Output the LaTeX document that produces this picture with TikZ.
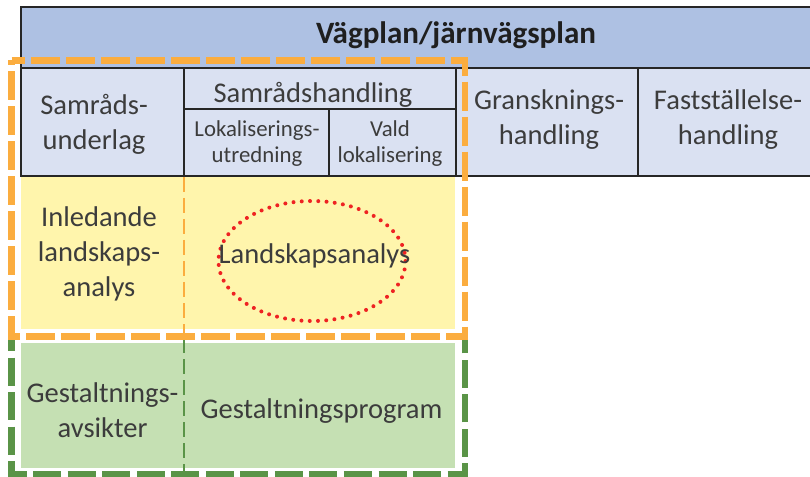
\documentclass[tikz,border=0pt]{standalone}
\usepackage{fontspec}
\setmainfont{Carlito}
\usetikzlibrary{shapes.geometric}
\definecolor{hdrblue}{HTML}{AEC1E3}
\definecolor{cellblue}{HTML}{DAE1F2}
\definecolor{yelfill}{HTML}{FFF5AC}
\definecolor{grnfill}{HTML}{C5E0B3}
\definecolor{orng}{HTML}{FBAD3F}
\definecolor{dgrn}{HTML}{5A9447}
\definecolor{reddot}{HTML}{EE2222}
\definecolor{txtgray}{HTML}{3C3C3C}
\definecolor{bordc}{HTML}{262626}
\begin{document}
\begin{tikzpicture}[x=0.75pt,y=-0.75pt,
  hdrcell/.style={fill=hdrblue,draw=bordc,line width=1.65pt},
  tabcell/.style={fill=cellblue,draw=bordc,line width=1.65pt},
  bigtxt/.style={text=txtgray,align=center,inner sep=0pt,font=\fontsize{21.4}{26.25}\selectfont},
  smalltxt/.style={text=txtgray,align=center,inner sep=0pt,font=\fontsize{17.1}{19.5}\selectfont},
  hdrtxt/.style={text=black!88,inner sep=0pt,font=\fontsize{23.3}{28}\selectfont\bfseries},
  orthin/.style={draw=orng,line width=2pt,dash pattern=on 11.25pt off 4.5pt},
  grthin/.style={draw=dgrn,line width=2pt,dash pattern=on 11.25pt off 4.5pt},
  orthick/.style={draw=orng,line width=4.9pt,dash pattern=on 21.75pt off 4.5pt,dash phase=11.6pt},
  grthick/.style={draw=dgrn,line width=4.9pt,dash pattern=on 21pt off 4.9pt,dash phase=10.5pt},
  ring/.style={ellipse,draw=reddot,line width=3pt,line cap=round,dash pattern=on 0pt off 6.2pt,
    minimum width=140.25pt,minimum height=90pt,inner sep=0pt}
]
\useasboundingbox (0,0) rectangle (810,477);
\clip (0,0) rectangle (810,477);
% coloured areas
\fill[yelfill] (21,177) rectangle (455,329);
\fill[grnfill] (21,343) rectangle (455,468);
% table
\path[hdrcell] (21,7) rectangle (840,68);
\path[tabcell] (21,68) rectangle (184,176);
\path[tabcell] (184,68) rectangle (456,109);
\path[tabcell] (184,109) rectangle (329,176);
\path[tabcell] (329,109) rectangle (456,176);
\path[tabcell] (456,68) rectangle (638,176);
\path[tabcell] (638,68) rectangle (840,176);
% thin dashed separators
\coordinate (oT) at (184,177);
\coordinate (oB) at (184,336);
\coordinate (gT) at (184,338);
\coordinate (gB) at (184,474);
\draw[orthin] (oT) -- (oB);
\draw[grthin] (gT) -- (gB);
% thick dashed frames
\coordinate (gTL) at (11.5,337);
\coordinate (gBL) at (11.5,474);
\coordinate (gBR) at (465,474);
\coordinate (gTR) at (465,337);
\draw[grthick] (gTL) -- (gBL) -- (gBR) -- (gTR);
\coordinate (oTL) at (11.5,60.5);
\coordinate (oTR) at (465,60.5);
\coordinate (oBR) at (465,336.5);
\coordinate (oBL) at (11.5,336.5);
\draw[orthick] (oTL) -- (oTR) -- (oBR) -- (oBL) -- cycle;
% red dotted ellipse
\node[ring] (ring) at (312,261) {};
% texts
\node[hdrtxt] (hdr) at (456,35.5) {Vägplan/järnvägsplan};
\node[bigtxt] (samu) at (94,124.5) {Samråds-\\underlag};
\node[bigtxt] (samh) at (313,94.5) {Samrådshandling};
\node[smalltxt] (lok) at (257,144) {Lokaliserings-\\utredning};
\node[smalltxt] (vald) at (390,144) {Vald\\lokalisering};
\node[bigtxt] (gran) at (549,120) {Gransknings-\\handling};
\node[bigtxt] (fast) at (728,120) {Fastställelse-\\handling};
\node[bigtxt] (inl) at (99,254) {Inledande\\landskaps-\\analys};
\node[bigtxt] (land) at (314.5,255.5) {Landskapsanalys};
\node[bigtxt] (gavs) at (102.5,410) {Gestaltnings-\\avsikter};
\node[bigtxt] (gprog) at (321.5,411.5) {Gestaltningsprogram};
\end{tikzpicture}
\end{document}
